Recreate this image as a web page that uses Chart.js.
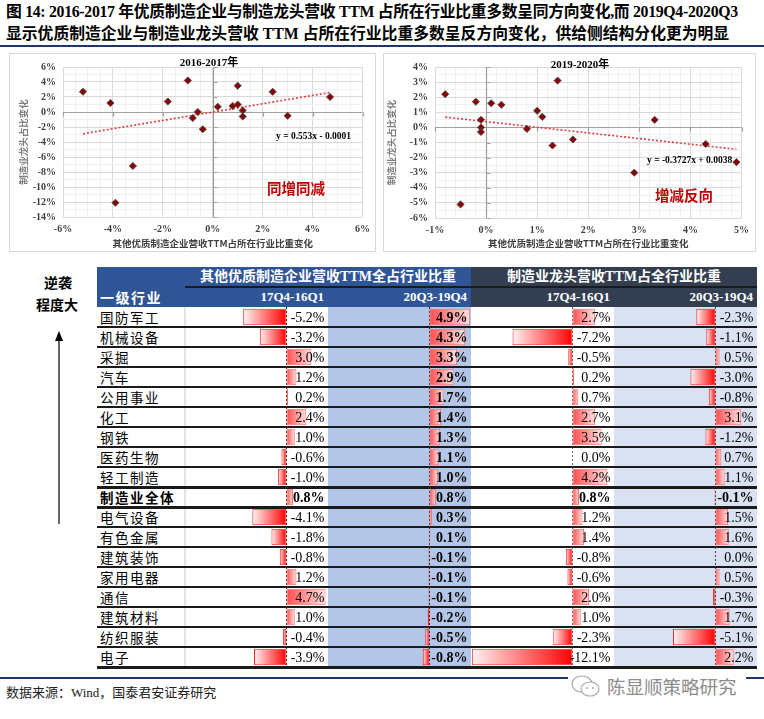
<!DOCTYPE html>
<html>
<head>
<meta charset="utf-8">
<script src="https://cdn.jsdelivr.net/npm/chart.js@4.4.1/dist/chart.umd.min.js"></script>
<style>
body{margin:0;background:#fff;width:764px;height:719px;position:relative;overflow:hidden;font-family:'Liberation Serif','Noto Sans CJK SC',serif;color:#000}
.abs{position:absolute}
.title{left:6px;font-weight:bold;font-size:15.8px;line-height:20px;white-space:nowrap}
.box{border:1px solid #d9d9d9;box-sizing:border-box}
.note{white-space:nowrap;font-weight:bold}
.hdr{color:#fff;font-weight:bold;white-space:nowrap;line-height:20px;height:20px}
.name{font-family:'Noto Sans CJK SC';font-size:13.5px;letter-spacing:1.5px;line-height:20px;height:20px;white-space:nowrap}
</style>
</head>
<body>
<div class="abs title" style="top:2px;letter-spacing:-0.3px">图 14: 2016-2017 年优质制造企业与制造龙头营收 TTM 占所在行业比重多数呈同方向变化,而 2019Q4-2020Q3</div>
<div class="abs title" style="top:24px">显示优质制造企业与制造业龙头营收 TTM 占所在行业比重多数呈反方向变化，供给侧结构分化更为明显</div>
<div class="abs" style="left:0;top:45px;width:764px;height:2px;background:#1f3864"></div>

<div class="abs box" style="left:9px;top:53px;width:367px;height:199px"></div>
<canvas id="scatter1" class="abs" width="366" height="197" style="left:10px;top:54px"></canvas>
<div class="abs box" style="left:383px;top:53px;width:373px;height:199px"></div>
<canvas id="scatter2" class="abs" width="371" height="197" style="left:384px;top:54px"></canvas>

<div class="abs note" style="left:159px;top:55px;width:100px;text-align:center;font-size:11px;line-height:14px">2016-2017年</div>
<div class="abs note" style="left:276px;top:130px;font-size:9.5px;line-height:12px">y = 0.553x - 0.0001</div>
<div class="abs note" style="left:267px;top:179px;font-size:14.5px;line-height:18px;color:#c00000;font-family:'Noto Sans CJK SC'">同增同减</div>
<div class="abs note" style="left:530px;top:57px;width:100px;text-align:center;font-size:11px;line-height:14px">2019-2020年</div>
<div class="abs note" style="left:647px;top:154px;font-size:9.5px;line-height:12px">y = -0.3727x + 0.0038</div>
<div class="abs note" style="left:655px;top:186px;font-size:14.5px;line-height:18px;color:#c00000;font-family:'Noto Sans CJK SC'">增减反向</div>

<div class="abs note" style="left:28px;top:272px;width:60px;text-align:center;font-size:14px;line-height:20px;font-family:'Noto Sans CJK SC'">逆袭</div>
<div class="abs note" style="left:27px;top:294px;width:60px;text-align:center;font-size:14px;line-height:20px;font-family:'Noto Sans CJK SC'">程度大</div>
<svg class="abs" style="left:53px;top:330px" width="12" height="195">
  <line x1="6" y1="8" x2="6" y2="194" stroke="#000" stroke-width="1.2"/>
  <polygon points="2,11 6,1 10,11" fill="#000"/>
</svg>

<div id="table"></div>

<div class="abs" style="left:0;top:677px;width:764px;height:1.5px;background:#1f3864"></div>
<div class="abs" style="left:6px;top:685px;font-size:13px;line-height:16px;color:#222;white-space:nowrap">数据来源：Wind，国泰君安证券研究</div>
<div class="abs" style="left:568px;top:671px;width:178px;height:30px;background:#fff"></div>
<svg class="abs" style="left:570px;top:673px" width="32" height="26">
  <ellipse cx="12" cy="11" rx="10" ry="8" fill="none" stroke="#aaa" stroke-width="1.2"/>
  <ellipse cx="20" cy="16" rx="9" ry="7" fill="#fff" stroke="#aaa" stroke-width="1.2"/>
  <circle cx="17" cy="15" r="1" fill="#aaa"/><circle cx="23" cy="15" r="1" fill="#aaa"/>
</svg>
<div class="abs" style="left:607px;top:674px;font-family:'Noto Sans CJK SC';font-size:18.5px;line-height:24px;color:#8c8c8c;white-space:nowrap">陈显顺策略研究</div>

<script>
// Table rows (industries) and the four value columns, in %
const industries = ['国防军工', '机械设备', '采掘', '汽车', '公用事业', '化工', '钢铁', '医药生物', '轻工制造',
    '制造业全体', '电气设备', '有色金属', '建筑装饰', '家用电器', '通信', '建筑材料', '纺织服装', '电子'];
const otherEarly = [-5.2, -3.2, 3.0, 1.2, 0.2, 2.4, 1.0, -0.6, -1.0, 0.8, -4.1, -1.8, -0.8, 1.2, 4.7, 1.0, -0.4, -3.9];
const otherLate = [4.9, 4.3, 3.3, 2.9, 1.7, 1.4, 1.3, 1.1, 1.0, 0.8, 0.3, 0.1, -0.1, -0.1, -0.1, -0.2, -0.5, -0.8];
const leaderEarly = [2.7, -7.2, -0.5, 0.2, 0.7, 2.7, 3.5, 0.0, 4.2, 0.8, 1.2, 1.4, -0.8, -0.6, 2.0, 1.0, -2.3, -12.1];
const leaderLate = [-2.3, -1.1, 0.5, -3.0, -0.8, 3.1, -1.2, 0.7, 1.1, -0.1, 1.5, 1.6, 0.0, 0.5, -0.3, 1.7, -5.1, 2.2];
const totalRow = '制造业全体';

// Trend lines, end points
const trend1X = [-5.2, 4.7];
const trend1Y = [-2.9, 2.6];
const trend2X = [-0.8, 4.9];
const trend2Y = [0.68, -1.45];

// Labelled ticks
const s1XTicks = [-6, -4, -2, 0, 2, 4, 6];
const s1YTicks = [6, 4, 2, 0, -2, -4, -6, -8, -10, -12, -14];
const s2XTicks = [-1, 0, 1, 2, 3, 4, 5];
const s2YTicks = [4, 3, 2, 1, 0, -1, -2, -3, -4, -5, -6];

const xTitle = '其他优质制造企业营收TTM占所在行业比重变化';
const yTitle = '制造业龙头占比变化';

function isMajor(v, list) {
    return list.some(m => Math.abs(m - v) < 1e-6);
}

function gridColor(list) {
    return (c) => isMajor(c.tick.value, list) ? '#d9d9d9' : '#f0f0f0';
}

// zero axes drawn over the grid, with small tick marks
const zeroAxes = {
    id: 'zeroAxes',
    beforeDatasetsDraw(chart, args, opts) {
        const { ctx, chartArea, scales } = chart;
        const x0 = Math.round(scales.x.getPixelForValue(0)) + 0.5;
        const y0 = Math.round(scales.y.getPixelForValue(0)) + 0.5;
        ctx.save();
        ctx.strokeStyle = '#a0a0a0';
        ctx.lineWidth = 1.2;
        ctx.beginPath();
        ctx.moveTo(x0, chartArea.top);
        ctx.lineTo(x0, chartArea.bottom);
        ctx.moveTo(chartArea.left, y0);
        ctx.lineTo(chartArea.right, y0);
        opts.xTicks.forEach(v => {
            const px = Math.round(scales.x.getPixelForValue(v)) + 0.5;
            ctx.moveTo(px, y0);
            ctx.lineTo(px, y0 + 4);
        });
        opts.yTicks.forEach(v => {
            const py = Math.round(scales.y.getPixelForValue(v)) + 0.5;
            ctx.moveTo(x0, py);
            ctx.lineTo(x0 + 4, py);
        });
        ctx.stroke();
        ctx.restore();
    }
};

function makeScatter(id, xs, ys, tx, ty, cfg) {
    const points = xs.map((x, i) => ({ x: x, y: ys[i] }));
    const trend = tx.map((x, i) => ({ x: x, y: ty[i] }));
    return new Chart(document.getElementById(id), {
        type: 'scatter',
        data: {
            datasets: [{
                data: points,
                pointStyle: 'rectRot',
                pointRadius: 3.6,
                backgroundColor: '#8b0000',
                borderColor: '#555',
                borderWidth: 1
            }, {
                data: trend,
                showLine: true,
                pointRadius: 0,
                borderColor: '#e03c3c',
                borderWidth: 1.6,
                borderDash: [2, 2]
            }]
        },
        options: {
            responsive: false,
            animation: false,
            layout: { padding: cfg.padding },
            plugins: {
                legend: { display: false },
                tooltip: { enabled: false },
                zeroAxes: { xTicks: cfg.xTicks, yTicks: cfg.yTicks }
            },
            scales: {
                x: {
                    type: 'linear',
                    min: cfg.xMin, max: cfg.xMax,
                    afterFit: (s) => { s.height = cfg.xHeight; },
                    ticks: {
                        stepSize: cfg.xStep, autoSkip: false, maxRotation: 0, padding: 6,
                        color: '#404040', font: { family: 'Liberation Serif', size: 10, weight: 'bold' },
                        callback: (v) => isMajor(v, cfg.xTicks) ? Math.round(v) + '%' : ''
                    },
                    grid: { drawTicks: false, color: gridColor(cfg.xTicks), lineWidth: 1 },
                    border: { display: false },
                    title: {
                        display: true, text: xTitle, color: '#404040', padding: { top: 0, bottom: 2 },
                        font: { family: 'Noto Sans CJK SC', size: 9.5, weight: 'bold' }
                    }
                },
                y: {
                    type: 'linear',
                    min: cfg.yMin, max: cfg.yMax,
                    afterFit: (s) => { s.width = cfg.yWidth; },
                    ticks: {
                        stepSize: cfg.yStep, autoSkip: false, padding: 7,
                        color: '#404040', font: { family: 'Liberation Serif', size: 10, weight: 'bold' },
                        callback: (v) => isMajor(v, cfg.yTicks) ? Math.round(v) + '%' : ''
                    },
                    grid: { drawTicks: false, color: gridColor(cfg.yTicks), lineWidth: 1 },
                    border: { display: false },
                    title: {
                        display: true, text: yTitle, color: '#7f7f7f', padding: 0,
                        font: { family: 'Noto Sans CJK SC', size: 9.5, weight: 'bold' }
                    }
                }
            }
        },
        plugins: [zeroAxes]
    });
}

makeScatter('scatter1', otherEarly, leaderEarly, trend1X, trend1Y, {
    xMin: -6, xMax: 6, xStep: 0.5, xTicks: s1XTicks,
    yMin: -14, yMax: 6, yStep: 1, yTicks: s1YTicks,
    padding: { left: 8, right: 12, top: 11, bottom: 0 }, yWidth: 45, xHeight: 34
});
makeScatter('scatter2', otherLate, leaderLate, trend2X, trend2Y, {
    xMin: -1, xMax: 5, xStep: 0.2, xTicks: s2XTicks,
    yMin: -6, yMax: 4, yStep: 0.5, yTicks: s2YTicks,
    padding: { left: 2, right: 13, top: 12, bottom: 0 }, yWidth: 49, xHeight: 33
});

// ---- table ----
const table = document.getElementById('table');
const rowTop = 307;
const rowH = 20;

function addDiv(style, text, cls) {
    const d = document.createElement('div');
    d.className = 'abs' + (cls ? ' ' + cls : '');
    d.style.cssText = style;
    if (text) d.textContent = text;
    table.appendChild(d);
    return d;
}

// header backgrounds and texts
addDiv('left:97px;top:267px;width:374px;height:40px;background:#2f5597');
addDiv('left:471px;top:267px;width:286px;height:40px;background:#333f50');
addDiv('left:185px;top:286px;width:572px;height:1.5px;background:#1a1a1a');
addDiv('left:185px;top:267px;width:286px;text-align:center;font-size:14px', '其他优质制造企业营收TTM全占行业比重', 'hdr');
addDiv('left:471px;top:267px;width:286px;text-align:center;font-size:14px', '制造业龙头营收TTM占全行业比重', 'hdr');
addDiv('left:100px;top:287px;font-size:14px;letter-spacing:1.5px;font-family:"Noto Sans CJK SC"', '一级行业', 'hdr');
const colLefts = [185, 328, 471, 614];
const colW = 143;
const colHeads = ['17Q4-16Q1', '20Q3-19Q4', '17Q4-16Q1', '20Q3-19Q4'];
colHeads.forEach((h, i) => {
    addDiv('left:' + colLefts[i] + 'px;top:287px;width:' + (colW - 4) + 'px;text-align:right;font-size:13px', h, 'hdr');
});

// column backgrounds
addDiv('left:328px;top:' + rowTop + 'px;width:143px;height:' + (rowH * industries.length) + 'px;background:#b4c6e7');
addDiv('left:614px;top:' + rowTop + 'px;width:143px;height:' + (rowH * industries.length) + 'px;background:#d9e1f2');
addDiv('left:184px;top:' + rowTop + 'px;width:2px;height:' + (rowH * industries.length) + 'px;background:#e4e4e4');

// industry names
industries.forEach((name, i) => {
    const bold = name === totalRow ? 'font-weight:bold;' : '';
    addDiv('left:100px;top:' + (rowTop + rowH * i) + 'px;' + bold, name, 'name');
});

// bar columns
const barColumns = [otherEarly, otherLate, leaderEarly, leaderLate];
const boldColumns = [false, true, false, false];
const axisColors = ['#222', '#222', '#666', '#444'];

const cellPlugin = {
    id: 'cellPlugin',
    beforeDatasetsDraw(chart, args, opts) {
        const { ctx, chartArea, scales } = chart;
        const x0 = Math.round(scales.x.getPixelForValue(0)) + 0.5;
        ctx.save();
        ctx.strokeStyle = opts.axisColor;
        ctx.lineWidth = 1;
        ctx.setLineDash([2, 2]);
        ctx.beginPath();
        ctx.moveTo(x0, chartArea.top);
        ctx.lineTo(x0, chartArea.bottom);
        ctx.stroke();
        ctx.restore();
    },
    afterDatasetsDraw(chart, args, opts) {
        const { ctx, chartArea, scales } = chart;
        ctx.save();
        ctx.textAlign = 'right';
        ctx.textBaseline = 'middle';
        ctx.fillStyle = '#000';
        chart.data.datasets[0].data.forEach((v, i) => {
            const bold = opts.bold || industries[i] === totalRow;
            ctx.font = (bold ? 'bold ' : '') + '14px "Liberation Serif"';
            ctx.fillText(v.toFixed(1) + '%', chartArea.right - 3.5, scales.y.getPixelForValue(i) + 1);
        });
        ctx.restore();
    }
};

barColumns.forEach((values, k) => {
    const cv = document.createElement('canvas');
    cv.className = 'abs';
    cv.width = colW;
    cv.height = rowH * industries.length;
    cv.style.left = colLefts[k] + 'px';
    cv.style.top = rowTop + 'px';
    table.appendChild(cv);
    new Chart(cv, {
        type: 'bar',
        data: {
            labels: industries,
            datasets: [{
                data: values,
                barPercentage: 0.82,
                categoryPercentage: 1,
                borderSkipped: false,
                borderWidth: (c) => c.raw === 0 ? 0 : 1,
                borderColor: (c) => c.raw < 0 ? '#ff2020' : '#ff6a6a',
                backgroundColor: (c) => {
                    const chart = c.chart;
                    if (!chart.chartArea) return '#ff6666';
                    const xs = chart.scales.x;
                    const x0 = xs.getPixelForValue(0);
                    const x1 = xs.getPixelForValue(c.raw);
                    if (Math.abs(x1 - x0) < 1) return '#ff0000';
                    const g = chart.ctx.createLinearGradient(x0, 0, x1, 0);
                    if (c.raw < 0) {
                        g.addColorStop(0, '#ff0000');
                        g.addColorStop(1, '#fff4f4');
                    } else {
                        g.addColorStop(0, '#ff4d4d');
                        g.addColorStop(1, '#ffe2e2');
                    }
                    return g;
                }
            }]
        },
        options: {
            indexAxis: 'y',
            responsive: false,
            animation: false,
            layout: { padding: 0 },
            plugins: {
                legend: { display: false },
                tooltip: { enabled: false },
                cellPlugin: { bold: boldColumns[k], axisColor: axisColors[k] }
            },
            scales: {
                x: { type: 'linear', min: -12.2, max: 5.0, display: false },
                y: { display: false }
            }
        },
        plugins: [cellPlugin]
    });
});

// row separator lines
for (let i = 1; i <= industries.length; i++) {
    const thick = (industries[i] === totalRow || industries[i - 1] === totalRow || i === industries.length) ? 3 : 2;
    addDiv('left:97px;top:' + (rowTop + rowH * i - 1) + 'px;width:660px;height:' + thick + 'px;background:#1a1a1a');
}
</script>
</body>
</html>
